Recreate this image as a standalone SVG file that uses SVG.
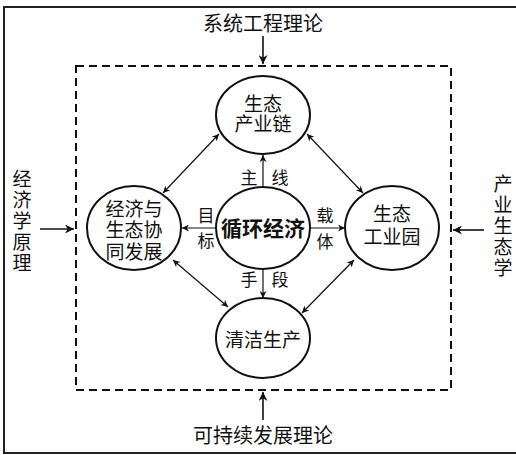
<svg xmlns="http://www.w3.org/2000/svg" width="516" height="455" viewBox="0 0 516 455">
<defs>
<style>
text{font-family:"Noto Sans CJK SC","Noto Sans CJK JP",sans-serif;fill:#111;text-anchor:middle}
.n{font-size:19px}
.lb{font-size:17px}
.big{font-size:20px}
.v{font-size:19px}
.bold{font-size:21px;font-weight:bold}
.ell{fill:#fff;stroke:#111;stroke-width:2}
.c{fill:none;stroke:#111;stroke-width:1.2}
.in{fill:none;stroke:#111;stroke-width:1.6}
</style>
<marker id="ah" viewBox="0 0 10 10" refX="10" refY="5" markerWidth="9" markerHeight="7" markerUnits="userSpaceOnUse" orient="auto-start-reverse">
<path d="M0,0 L10,5 L0,10 L3,5 Z" fill="#111"/>
</marker>
<marker id="ahb" viewBox="0 0 10 10" refX="10" refY="5" markerWidth="12" markerHeight="9" markerUnits="userSpaceOnUse" orient="auto">
<path d="M0,0 L10,5 L0,10 L3,5 Z" fill="#111"/>
</marker>
</defs>
<rect width="516" height="455" fill="#fff"/>
<rect x="4" y="7" width="530" height="446" fill="none" stroke="#222" stroke-width="2"/>
<rect id="scope" x="76" y="66" width="375" height="324" fill="none" stroke="#111" stroke-width="2" stroke-dasharray="8,5"/>

<g id="connectors">
<line class="in" x1="263" y1="36" x2="263" y2="64" marker-end="url(#ahb)"/>
<line class="in" x1="263" y1="420" x2="263" y2="392" marker-end="url(#ahb)"/>
<line class="in" x1="40" y1="229" x2="74" y2="229" marker-end="url(#ahb)"/>
<line class="in" x1="484" y1="230" x2="453" y2="230" marker-end="url(#ahb)"/>
<line class="c" x1="263" y1="187" x2="263" y2="155" marker-end="url(#ah)"/>
<line class="c" x1="263" y1="268" x2="263" y2="298" marker-end="url(#ah)"/>
<line class="c" x1="216" y1="228" x2="182" y2="228" marker-end="url(#ah)"/>
<line class="c" x1="310" y1="228" x2="345" y2="228" marker-end="url(#ah)"/>
<line class="c" x1="219" y1="134" x2="163" y2="193" marker-start="url(#ah)" marker-end="url(#ah)"/>
<line class="c" x1="307" y1="134" x2="363" y2="193" marker-start="url(#ah)" marker-end="url(#ah)"/>
<line class="c" x1="173" y1="260" x2="228" y2="307" marker-start="url(#ah)" marker-end="url(#ah)"/>
<line class="c" x1="354" y1="260" x2="302" y2="313" marker-start="url(#ah)" marker-end="url(#ah)"/>
<text class="lb" x="249" y="184">主</text>
<text class="lb" x="280" y="184">线</text>
<text class="lb" x="206" y="222">目</text>
<text class="lb" x="206" y="247">标</text>
<text class="lb" x="325" y="222">载</text>
<text class="lb" x="325" y="248">体</text>
<text class="lb" x="249" y="286">手</text>
<text class="lb" x="280" y="286">段</text>
</g>

<g id="top-label"><text class="big" x="263" y="31">系统工程理论</text></g>
<g id="bottom-label"><text class="big" x="263" y="443">可持续发展理论</text></g>
<g id="left-label">
<text class="v" x="22" y="186">经</text>
<text class="v" x="22" y="207">济</text>
<text class="v" x="22" y="228">学</text>
<text class="v" x="22" y="249">原</text>
<text class="v" x="22" y="270">理</text>
</g>
<g id="right-label">
<text class="v" x="503" y="191">产</text>
<text class="v" x="503" y="212">业</text>
<text class="v" x="503" y="233">生</text>
<text class="v" x="503" y="254">态</text>
<text class="v" x="503" y="275">学</text>
</g>

<g id="node-chain">
<ellipse class="ell" cx="263" cy="115" rx="47" ry="39"/>
<text class="n" x="263" y="111">生态</text>
<text class="n" x="263" y="131">产业链</text>
</g>
<g id="node-center">
<ellipse class="ell" cx="263" cy="228" rx="47" ry="41"/>
<text class="bold" x="263" y="236">循环经济</text>
</g>
<g id="node-left">
<ellipse class="ell" cx="134" cy="228" rx="47" ry="42"/>
<text class="n" x="134" y="216">经济与</text>
<text class="n" x="134" y="237">生态协</text>
<text class="n" x="134" y="259">同发展</text>
</g>
<g id="node-right">
<ellipse class="ell" cx="392" cy="228" rx="47" ry="42"/>
<text class="n" x="392" y="221">生态</text>
<text class="n" x="392" y="244">工业园</text>
</g>
<g id="node-bottom">
<ellipse class="ell" cx="263" cy="338" rx="47" ry="40"/>
<text class="n" x="263" y="347">清洁生产</text>
</g>
</svg>
